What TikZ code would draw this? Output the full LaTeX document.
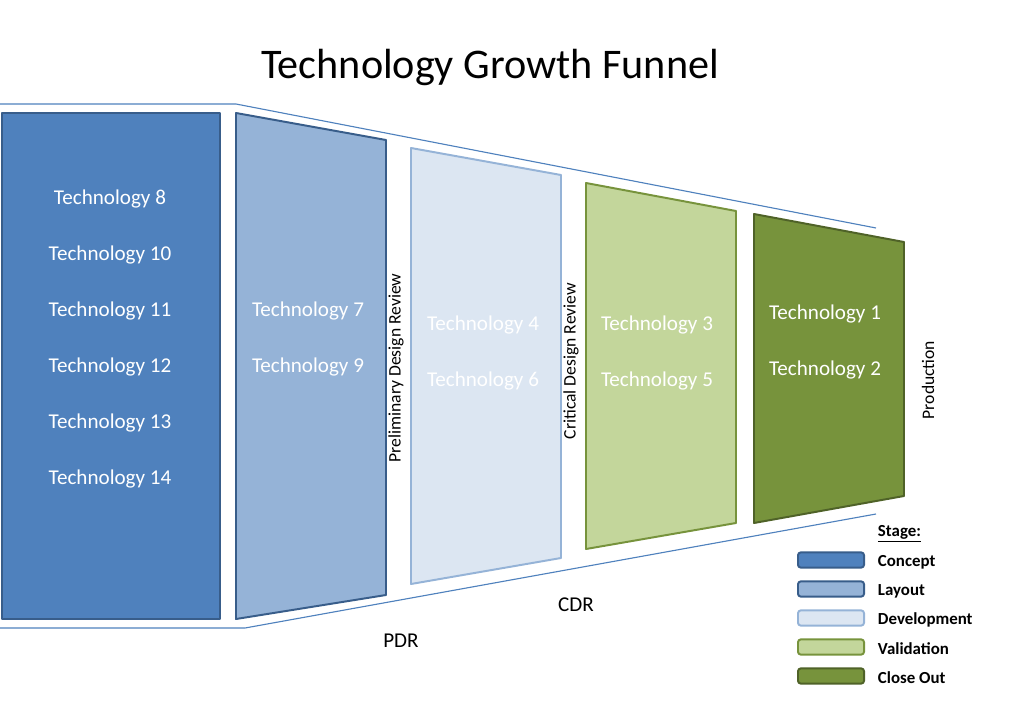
\documentclass[tikz,border=0pt]{standalone}
\usepackage{fontspec}
\setmainfont{Carlito}
\definecolor{concept}{HTML}{4F81BD}
\definecolor{conceptdk}{HTML}{385D8A}
\definecolor{layout}{HTML}{95B3D7}
\definecolor{devel}{HTML}{DCE6F2}
\definecolor{valid}{HTML}{C3D69B}
\definecolor{validdk}{HTML}{77933C}
\definecolor{closeout}{HTML}{77933C}
\definecolor{closedk}{HTML}{4F6228}
\begin{document}
\begin{tikzpicture}[x=0.025cm,y=-0.025cm,%
% common options for the stage blocks:
stage/.style = {line width=1.4pt, line join=round},
% text inside the blocks:
tech/.style = {text=white, font=\fontsize{15}{18}\selectfont},
% rotated gate labels:
gate/.style = {rotate=90, font=\fontsize{12.5}{15}\selectfont},
% legend boxes:
key/.style = {draw, rounded corners=2pt, line width=1.4pt, minimum width=1.65cm,
            minimum height=0.38cm, inner sep=0},
keytext/.style = {anchor=west, font=\bfseries\fontsize{12}{14}\selectfont}]
\useasboundingbox (0,0) rectangle (1024,703);
\node (title) at (490,67) {\fontsize{30}{36}\selectfont Technology Growth Funnel};
% funnel outline
\coordinate (T0) at (0,104);
\coordinate (T1) at (236,104);
\coordinate (T2) at (876,228);
\coordinate (B0) at (0,628);
\coordinate (B1) at (245,628);
\coordinate (B2) at (876,514);
\draw[concept, line width=0.8pt] (T0) -- (T1) -- (T2);
\draw[concept, line width=0.8pt] (B0) -- (B1) -- (B2);
% stages
\draw[stage, fill=concept, draw=conceptdk] (2,113) rectangle (220,619);
\draw[stage, fill=layout, draw=conceptdk] (236,113) -- (386,140) -- (386,595) -- (236,619) -- cycle;
\draw[stage, fill=devel, draw=layout] (411,148) -- (561,175) -- (561,558) -- (411,584) -- cycle;
\draw[stage, fill=valid, draw=validdk] (586,183) -- (736,211) -- (736,523) -- (586,549) -- cycle;
\draw[stage, fill=closeout, draw=closedk] (754,214) -- (904,242) -- (904,496) -- (754,523) -- cycle;
% technologies
\node[tech] (t8) at (110,199) {Technology 8};
\node[tech] (t10) at (110,255) {Technology 10};
\node[tech] (t11) at (110,311) {Technology 11};
\node[tech] (t12) at (110,367) {Technology 12};
\node[tech] (t13) at (110,423) {Technology 13};
\node[tech] (t14) at (110,479) {Technology 14};
\node[tech] (t7) at (308,311) {Technology 7};
\node[tech] (t9) at (308,367) {Technology 9};
\node[tech] (t4) at (483,325) {Technology 4};
\node[tech] (t6) at (483,381) {Technology 6};
\node[tech] (t3) at (657,325) {Technology 3};
\node[tech] (t5) at (657,381) {Technology 5};
\node[tech] (t1) at (825,314) {Technology 1};
\node[tech] (t2) at (825,370) {Technology 2};
% gates
\node[gate] (pdrg) at (396,368) {Preliminary Design Review};
\node[gate] (cdrg) at (571,361) {Critical Design Review};
\node[gate] (prod) at (928,380) {Production};
\node[font=\fontsize{15}{18}\selectfont] (pdr) at (401,641) {PDR};
\node[font=\fontsize{15}{18}\selectfont] (cdr) at (576,605) {CDR};
% legend
\node[keytext] (stg) at (873,534) {\underline{Stage:}};
\node[key, fill=concept, draw=conceptdk] (k1) at (831,560) {};
\node[key, fill=layout, draw=conceptdk] (k2) at (831,589) {};
\node[key, fill=devel, draw=layout] (k3) at (831,618) {};
\node[key, fill=valid, draw=validdk] (k4) at (831,647) {};
\node[key, fill=closeout, draw=closedk] (k5) at (831,676) {};
\node[keytext] (l1) at (873,562) {Concept};
\node[keytext] (l2) at (873,591) {Layout};
\node[keytext] (l3) at (873,620) {Development};
\node[keytext] (l4) at (873,649) {Validation};
\node[keytext] (l5) at (873,678) {Close Out};
\end{tikzpicture}
\end{document}
